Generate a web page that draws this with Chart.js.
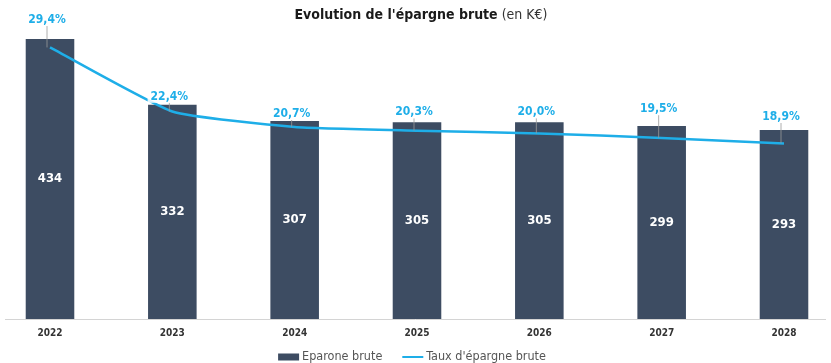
<!DOCTYPE html>
<html lang="fr">
<head>
<meta charset="utf-8" />
<title>Evolution de l'épargne brute</title>
<script src="https://cdn.jsdelivr.net/npm/chart.js"></script>
<style>
  html, body { margin: 0; padding: 0; background: #fff; }
  #wrap { width: 831px; height: 363px; position: relative; }
</style>
</head>
<body>
<div id="wrap"><canvas id="epargneChart"></canvas></div>
<script>
  // Données
  const annees = ['2022', '2023', '2024', '2025', '2026', '2027', '2028'];
  const epargneBrute = [434, 332, 307, 305, 305, 299, 293];
  const tauxEpargne = [29.4, 22.4, 20.7, 20.3, 20.0, 19.5, 18.9];

  const NARROW = "'Liberation Sans Narrow', 'DejaVu Sans Condensed', Arial, sans-serif";
  const BAR_COLOR = '#3d4c62';
  const LINE_COLOR = '#1eaee8';

  // titre en deux parties (gras + normal)
  const titrePlugin = {
    id: 'titre',
    afterDraw(chart) {
      const c = chart.ctx;
      const bold = "Evolution de l'épargne brute";
      const normal = ' (en K€)';
      c.save();
      c.textBaseline = 'middle';
      c.font = 'bold 14px ' + NARROW;
      const w1 = c.measureText(bold).width;
      c.font = '14px ' + NARROW;
      const w2 = c.measureText(normal).width;
      const x0 = 421 - (w1 + w2) / 2;
      c.fillStyle = '#1a1a1a';
      c.font = 'bold 14px ' + NARROW;
      c.fillText(bold, x0, 15);
      c.fillStyle = '#333';
      c.font = '14px ' + NARROW;
      c.fillText(normal, x0 + w1, 15);
      c.restore();
    }
  };

  // ligne de base de l'axe des x
  const baselinePlugin = {
    id: 'baseline',
    beforeDatasetsDraw(chart) {
      const c = chart.ctx;
      const y = chart.chartArea.bottom + 0.5;
      c.save();
      c.strokeStyle = '#d4d4d4';
      c.lineWidth = 1;
      c.beginPath();
      c.moveTo(5, y);
      c.lineTo(826, y);
      c.stroke();
      c.restore();
    }
  };

  // légende en bas
  const legendePlugin = {
    id: 'legende',
    afterDraw(chart) {
      const c = chart.ctx;
      const ds = chart.data.datasets;
      const y = chart.height - 6;
      const sw = 21, gapTxt = 3, gapItem = 20;
      c.save();
      c.font = '12.5px ' + NARROW;
      c.textBaseline = 'middle';
      const widths = ds.map(d => sw + gapTxt + c.measureText(d.label).width);
      const total = widths.reduce((a, b) => a + b, 0) + gapItem;
      let x = 412 - total / 2;
      ds.forEach((d, i) => {
        if (d.type === 'bar') {
          c.fillStyle = d.backgroundColor;
          c.fillRect(x, y - 3.5, sw, 7);
        } else {
          c.strokeStyle = d.borderColor;
          c.lineWidth = 2;
          c.beginPath();
          c.moveTo(x, y);
          c.lineTo(x + sw, y);
          c.stroke();
        }
        c.fillStyle = '#555';
        c.fillText(d.label, x + sw + gapTxt, y);
        x += widths[i] + gapItem;
      });
      c.restore();
    }
  };

  // étiquettes : valeurs dans les barres, taux au-dessus avec trait de rappel
  const etiquettesPlugin = {
    id: 'etiquettes',
    afterDatasetsDraw(chart) {
      const c = chart.ctx;
      const bars = chart.getDatasetMeta(0).data;
      const pts = chart.getDatasetMeta(1).data;
      const lift = [19, 8, 7, 10, 10, 17, 13];
      c.save();
      c.textAlign = 'center';
      c.textBaseline = 'middle';
      bars.forEach((bar, i) => {
        c.font = 'bold 13px ' + NARROW;
        c.fillStyle = '#ffffff';
        c.fillText(String(epargneBrute[i]), bar.x, (bar.y + bar.base) / 2);
      });
      pts.forEach((pt, i) => {
        const bar = bars[i];
        const ly = bar.y - lift[i];
        // trait de rappel
        c.strokeStyle = '#9a9a9a';
        c.lineWidth = 0.8;
        c.beginPath();
        c.moveTo(pt.x - 3, ly + 6);
        c.lineTo(pt.x - 3, pt.y);
        c.stroke();
        const txt = tauxEpargne[i].toFixed(1).replace('.', ',') + '%';
        c.font = 'bold 12px ' + NARROW;
        const w = c.measureText(txt).width;
        c.fillStyle = 'rgba(255,255,255,0.85)';
        c.fillRect(pt.x - 3 - w / 2 - 3, ly - 7, w + 6, 13);
        c.fillStyle = LINE_COLOR;
        c.fillText(txt, pt.x - 3, ly);
      });
      c.restore();
    }
  };

  new Chart(document.getElementById('epargneChart'), {
    data: {
      labels: annees,
      datasets: [
        {
          type: 'bar',
          label: 'Eparone brute',
          data: epargneBrute,
          backgroundColor: BAR_COLOR,
          yAxisID: 'y',
          categoryPercentage: 1,
          barPercentage: 0.397,
          clip: false,
          order: 2
        },
        {
          type: 'line',
          label: "Taux d'épargne brute",
          data: tauxEpargne,
          borderColor: LINE_COLOR,
          backgroundColor: LINE_COLOR,
          borderWidth: 2.5,
          pointRadius: 0,
          tension: 0.15,
          yAxisID: 'taux',
          clip: false,
          order: 1
        }
      ]
    },
    options: {
      responsive: true,
      maintainAspectRatio: false,
      animation: false,
      layout: { padding: { left: 50, right: 47, top: 20, bottom: 16 } },
      scales: {
        x: {
          offset: false,
          grid: { display: false, drawTicks: false },
          border: { display: false },
          ticks: {
            color: '#333',
            padding: 8,
            font: { family: NARROW, size: 10, weight: 'bold' }
          }
        },
        y: { display: false, min: 0, max: 463.5 },
        taux: { display: false, min: -0.3, max: 32.4 }
      },
      plugins: {
        legend: { display: false },
        title: { display: false },
        tooltip: { enabled: false }
      }
    },
    plugins: [titrePlugin, baselinePlugin, etiquettesPlugin, legendePlugin]
  });
</script>
</body>
</html>
